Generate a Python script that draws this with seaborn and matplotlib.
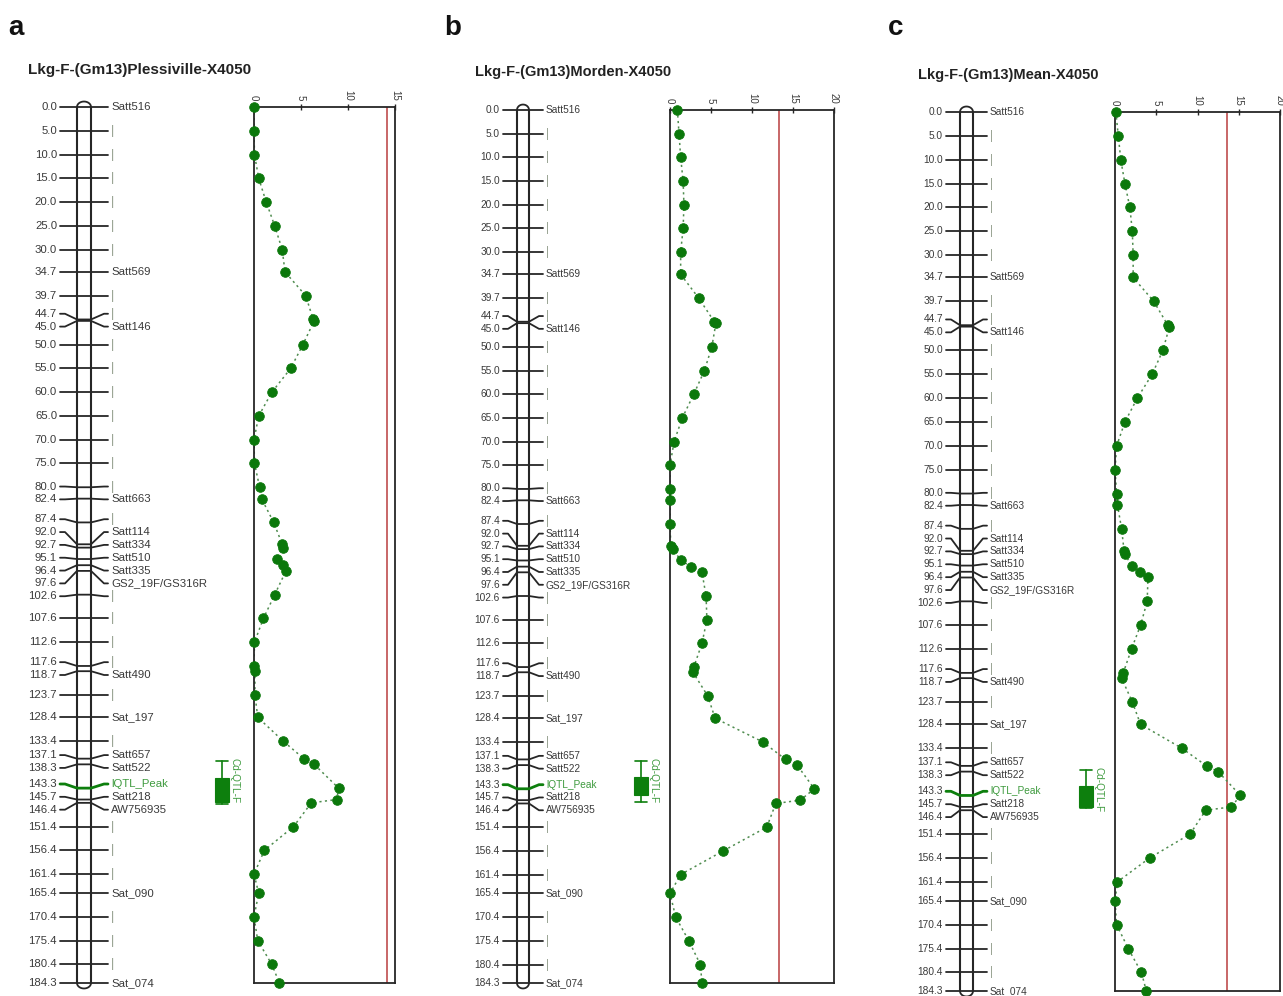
import numpy as np
import pandas as pd
import matplotlib
matplotlib.use("Agg")
import matplotlib.pyplot as plt
from matplotlib.patches import Rectangle
import seaborn as sns

# ---------------------------------------------------------------- data
# Linkage group F (Gm13): marker positions (cM) and marker names
positions = [0.0, 5.0, 10.0, 15.0, 20.0, 25.0, 30.0, 34.7, 39.7, 44.7, 45.0,
             50.0, 55.0, 60.0, 65.0, 70.0, 75.0, 80.0, 82.4, 87.4, 92.0, 92.7,
             95.1, 96.4, 97.6, 102.6, 107.6, 112.6, 117.6, 118.7, 123.7, 128.4,
             133.4, 137.1, 138.3, 143.3, 145.7, 146.4, 151.4, 156.4, 161.4,
             165.4, 170.4, 175.4, 180.4, 184.3]
marker_names = ["Satt516", "", "", "", "", "", "", "Satt569", "", "", "Satt146",
                "", "", "", "", "", "", "", "Satt663", "", "Satt114", "Satt334",
                "Satt510", "Satt335", "GS2_19F/GS316R", "", "", "", "", "Satt490",
                "", "Sat_197", "", "Satt657", "Satt522", "lQTL_Peak", "Satt218",
                "AW756935", "", "", "", "Sat_090", "", "", "", "Sat_074"]
peak_name = "lQTL_Peak"

# LOD profiles per environment
lod_plessisville = [0.0, 0.0, 0.05, 0.5, 1.3, 2.2, 3.0, 3.3, 5.5, 6.3, 6.4,
                    5.2, 3.9, 1.9, 0.5, 0.0, 0.05, 0.6, 0.8, 2.1, 3.0, 3.1,
                    2.4, 3.1, 3.4, 2.2, 1.0, 0.05, 0.0, 0.1, 0.1, 0.4,
                    3.1, 5.3, 6.4, 9.0, 8.8, 6.1, 4.2, 1.1, 0.0,
                    0.5, 0.0, 0.4, 1.9, 2.7]
lod_morden = [0.9, 1.1, 1.3, 1.6, 1.7, 1.6, 1.3, 1.3, 3.5, 5.4, 5.6,
              5.1, 4.2, 2.9, 1.5, 0.5, 0.0, 0.0, 0.0, 0.0, 0.1, 0.4,
              1.3, 2.6, 3.9, 4.4, 4.5, 3.9, 2.9, 2.8, 4.6, 5.5,
              11.3, 14.1, 15.5, 17.6, 15.9, 12.9, 11.8, 6.5, 1.3,
              0.0, 0.7, 2.3, 3.7, 3.9]
lod_mean = [0.1, 0.4, 0.7, 1.2, 1.8, 2.1, 2.2, 2.2, 4.7, 6.4, 6.6,
            5.8, 4.5, 2.7, 1.2, 0.2, 0.0, 0.2, 0.3, 0.8, 1.1, 1.2,
            2.0, 3.0, 4.0, 3.9, 3.1, 2.0, 1.0, 0.8, 2.1, 3.1,
            8.1, 11.1, 12.5, 15.2, 14.1, 11.0, 9.1, 4.2, 0.3,
            0.0, 0.2, 1.6, 3.2, 3.8]

panel_letters = ["a", "b", "c"]
panel_titles = ["Lkg-F-(Gm13)Plessiville-X4050",
                "Lkg-F-(Gm13)Morden-X4050",
                "Lkg-F-(Gm13)Mean-X4050"]
lod_profiles = [lod_plessisville, lod_morden, lod_mean]
lod_thresholds = [14.2, 13.3, 13.6]
lod_axis_max = [15, 20, 20]

qtl_name = "Cd-QTL-F"
qtl_outer = [(137.6, 146.6), (137.4, 146.1), (137.9, 145.9)]   # whisker interval (cM)
qtl_inner = [(141.2, 146.3), (140.8, 144.6), (141.3, 145.7)]   # box interval (cM)

# ---------------------------------------------------------------- layout (pixels)
W, H = 1283, 996
layout = [
    dict(letter=(8, 28), title=(28, 70), title_fs=11.0, fs=8.2,
         map_x=(0, 250), y=(107, 983), cl=77, cw=14, out=17, qx=222,
         lod_x=(254, 395)),
    dict(letter=(444, 28), title=(475, 72), title_fs=10.5, fs=7.3,
         map_x=(440, 660), y=(110, 983), cl=517, cw=12, out=14, qx=641,
         lod_x=(670, 834)),
    dict(letter=(888, 28), title=(918, 75), title_fs=10.5, fs=7.3,
         map_x=(880, 1100), y=(112, 991), cl=960, cw=13, out=14, qx=1086,
         lod_x=(1115, 1280)),
]

INK = "#262626"
TEXT = "#3a3a3a"
BAR_GREY = "#8f9a88"
GREEN_DOT = "#0b780b"
GREEN_LINE = "#4f8c4f"
GREEN_QTL = "#0d7f0d"
GREEN_LABEL = "#3f9b3f"
RED = "#c45a5c"

sns.set_theme(style="white")
plt.rcParams["font.family"] = ["Liberation Sans", "DejaVu Sans"]

fig = plt.figure(figsize=(W / 100, H / 100), dpi=100)
fig.patch.set_facecolor("white")


def px_axes(x0, x1, y0, y1):
    return fig.add_axes([x0 / W, 1 - y1 / H, (x1 - x0) / W, (y1 - y0) / H])


def spread_labels(pos, gap):
    """Push label positions apart so neighbours are at least `gap` cM apart."""
    groups = [[p] for p in pos]
    while True:
        starts = [np.mean(g) - gap * (len(g) - 1) / 2 for g in groups]
        merged = False
        for i in range(len(groups) - 1):
            end_i = starts[i] + gap * (len(groups[i]) - 1)
            if starts[i + 1] - end_i < gap - 1e-9:
                groups[i] = groups[i] + groups[i + 1]
                del groups[i + 1]
                merged = True
                break
        if not merged:
            break
    out = []
    for g, s in zip(groups, starts):
        out.extend(s + gap * k for k in range(len(g)))
    return out


label_pos = spread_labels(positions, 2.7)
top_cm, bottom_cm = positions[0], positions[-1]

for p in range(3):
    L = layout[p]
    y0, y1 = L["y"]

    # panel letter and title
    fig.text(L["letter"][0] / W, 1 - L["letter"][1] / H, panel_letters[p],
             fontsize=20, fontweight="bold", va="center", ha="left", color="#111111")
    fig.text(L["title"][0] / W, 1 - L["title"][1] / H, panel_titles[p],
             fontsize=L["title_fs"], fontweight="bold", va="center", ha="left",
             color="#222222")

    # ------------------------------------------------ linkage map
    mx = px_axes(L["map_x"][0], L["map_x"][1], y0, y1)
    mx.set_xlim(*L["map_x"])
    mx.set_ylim(bottom_cm, top_cm)
    mx.axis("off")

    cl, cw, out = L["cl"], L["cw"], L["out"]
    cr = cl + cw
    xl_out, xr_out = cl - out, cr + out
    xl_knee, xr_knee = xl_out + 5, xr_out - 4

    # chromosome body with rounded ends
    mx.plot([cl, cl], [top_cm, bottom_cm], color=INK, lw=1.5, solid_capstyle="butt")
    mx.plot([cr, cr], [top_cm, bottom_cm], color=INK, lw=1.5, solid_capstyle="butt")
    t = np.linspace(0, np.pi, 40)
    xc = (cl + cr) / 2 - (cw / 2) * np.cos(t)
    mx.plot(xc, top_cm - 1.15 * np.sin(t), color=INK, lw=1.3, clip_on=False)
    mx.plot(xc, bottom_cm + 1.15 * np.sin(t), color=INK, lw=1.3, clip_on=False)

    for pos, lab_y, name in zip(positions, label_pos, marker_names):
        is_peak = name == peak_name
        col = GREEN_QTL if is_peak else INK
        lw = 2.0 if is_peak else 1.3
        xs = [xl_out, xl_knee, cl, cr, xr_knee, xr_out]
        ys = [lab_y, lab_y, pos, pos, lab_y, lab_y]
        mx.plot(xs, ys, color=col, lw=lw, clip_on=False, solid_joinstyle="round")
        mx.text(xl_out - 3, lab_y, f"{pos:.1f}", ha="right", va="center",
                fontsize=L["fs"], color=TEXT, clip_on=False)
        if name:
            mx.text(xr_out + 3, lab_y, name, ha="left", va="center",
                    fontsize=L["fs"], clip_on=False,
                    color=GREEN_LABEL if is_peak else TEXT)
        else:
            mx.text(xr_out + 3, lab_y, "|", ha="left", va="center",
                    fontsize=L["fs"] + 1, color=BAR_GREY, clip_on=False)

    # QTL interval symbol
    qx = L["qx"]
    o_top, o_bot = qtl_outer[p]
    i_top, i_bot = qtl_inner[p]
    mx.plot([qx, qx], [o_top, o_bot], color=GREEN_QTL, lw=1.2)
    mx.plot([qx - 6, qx + 6], [o_top, o_top], color=GREEN_QTL, lw=1.2)
    mx.plot([qx - 6, qx + 6], [o_bot, o_bot], color=GREEN_QTL, lw=1.2)
    mx.add_patch(Rectangle((qx - 7, i_top), 14, i_bot - i_top,
                           facecolor=GREEN_QTL, edgecolor=GREEN_QTL, lw=0.8))
    mx.text(qx + 8, o_top - 0.6, qtl_name, rotation=-90, ha="left", va="top",
            fontsize=7.2, color=GREEN_LABEL)

    # ------------------------------------------------ LOD profile
    ax = px_axes(L["lod_x"][0], L["lod_x"][1], y0, y1)
    df = pd.DataFrame({"cM": positions, "LOD": lod_profiles[p]})
    sns.lineplot(data=df, x="LOD", y="cM", orient="y", estimator=None,
                 ax=ax, color=GREEN_LINE, lw=1.1, linestyle=(0, (1.4, 2.2)),
                 zorder=2)
    sns.scatterplot(data=df, x="LOD", y="cM", ax=ax, color=GREEN_DOT, s=48,
                    edgecolor=GREEN_DOT, linewidth=0.6, zorder=3, clip_on=False)
    ax.axvline(lod_thresholds[p], color=RED, lw=1.3, zorder=1)

    ax.set_xlim(0, lod_axis_max[p])
    ax.set_ylim(bottom_cm, top_cm)
    ax.set_xticks(np.arange(0, lod_axis_max[p] + 1, 5))
    ax.set_yticks([])
    ax.set_xlabel("")
    ax.set_ylabel("")
    ax.xaxis.tick_top()
    ax.tick_params(axis="x", top=True, bottom=False, labeltop=True,
                   labelbottom=False, direction="inout", length=5, width=1,
                   color=INK, pad=2, labelsize=7, labelcolor=TEXT,
                   labelrotation=-90)
    ax.grid(False)
    ax.set_facecolor("none")
    for s in ax.spines.values():
        s.set_color(INK)
        s.set_linewidth(1.3)

fig.savefig("out.png", dpi=100, facecolor="white")
